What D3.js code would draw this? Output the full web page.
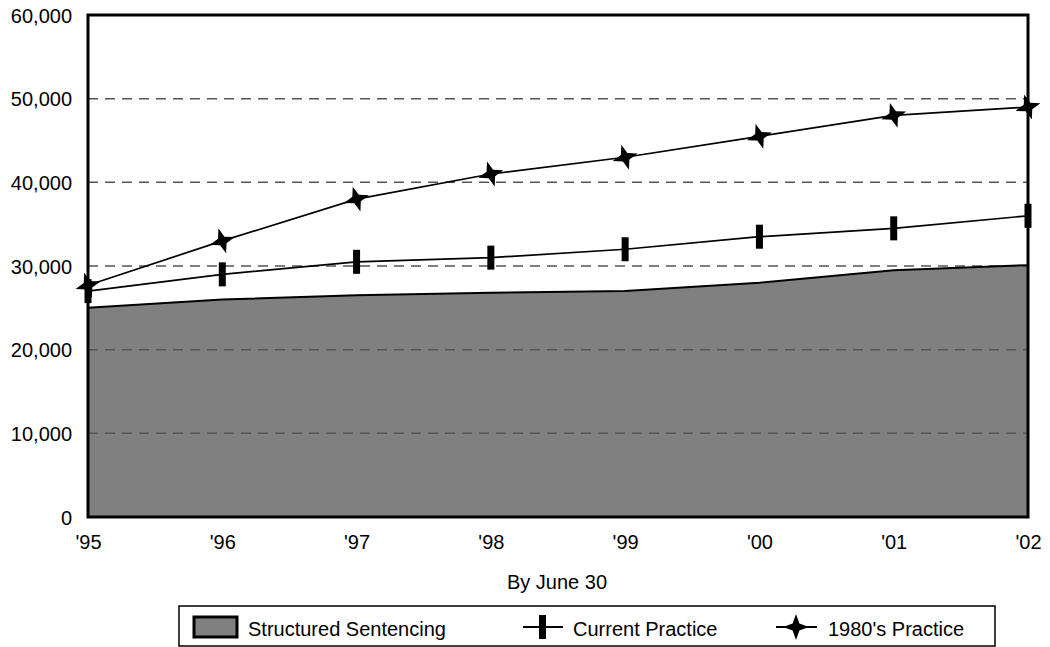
<!DOCTYPE html>
<meta charset="utf-8">
<script src="https://d3js.org/d3.v7.min.js"></script>
<style>
  body { margin: 0; background: #fff; }
  text { font-family: "Liberation Sans", Arial, sans-serif; fill: #000; }
</style>
<div id="chart"></div>
<script>

// data
var years = ["'95", "'96", "'97", "'98", "'99", "'00", "'01", "'02"];
var structured = [25000, 26000, 26500, 26800, 27000, 28000, 29500, 30100];
var current = [27000, 29000, 30500, 31000, 32000, 33500, 34500, 36000];
var practice80 = [27700, 33000, 38000, 41000, 43000, 45500, 48000, 49000];
var yTicks = [0, 10000, 20000, 30000, 40000, 50000, 60000];
var legendLabels = ["Structured Sentencing", "Current Practice", "1980's Practice"];

var W = 1050, H = 647;
var margin = {top: 15, right: 22, bottom: 130, left: 88},
    width = W - margin.left - margin.right,
    height = H - margin.top - margin.bottom;

var svg = d3.select("#chart").append("svg")
    .attr("width", W).attr("height", H);

var g = svg.append("g")
    .attr("transform", "translate(" + margin.left + "," + margin.top + ")");

var x = d3.scalePoint().domain(years).range([0, width]);
var y = d3.scaleLinear().domain([0, 60000]).range([height, 0]);

var rows = years.map(function(yr, i) {
  return {yr: yr, s: structured[i], c: current[i], p: practice80[i]};
});

// area
g.append("path")
  .datum(rows)
  .attr("d", d3.area().x(function(d) { return x(d.yr); }).y0(height).y1(function(d) { return y(d.s); }))
  .attr("fill", "#808080");

// gridlines
g.selectAll(".grid").data(yTicks.filter(function(t) { return t > 0 && t < 60000; }))
  .enter().append("line")
  .attr("x1", 0).attr("x2", width)
  .attr("y1", function(d) { return y(d); }).attr("y2", function(d) { return y(d); })
  .attr("stroke", "#555").attr("stroke-width", 1.5)
  .attr("stroke-dasharray", "10,7");

g.append("path")
  .datum(rows)
  .attr("d", d3.line().x(function(d) { return x(d.yr); }).y(function(d) { return y(d.s); }))
  .attr("fill", "none").attr("stroke", "#000").attr("stroke-width", 2);

// lines
var lineC = d3.line().x(function(d) { return x(d.yr); }).y(function(d) { return y(d.c); });
var lineP = d3.line().x(function(d) { return x(d.yr); }).y(function(d) { return y(d.p); });
g.append("path").datum(rows).attr("d", lineC)
  .attr("fill", "none").attr("stroke", "#000").attr("stroke-width", 1.7);
g.append("path").datum(rows).attr("d", lineP)
  .attr("fill", "none").attr("stroke", "#000").attr("stroke-width", 1.7);

// star marker path (4 points, rotated)
function starPath(r, ri, rot) {
  var pts = [];
  for (var k = 0; k < 8; k++) {
    var a = rot + k * Math.PI / 4;
    var rr = (k % 2 === 0) ? r : ri;
    pts.push([rr * Math.sin(a), -rr * Math.cos(a)]);
  }
  return "M" + pts.map(function(p) { return p[0].toFixed(2) + "," + p[1].toFixed(2); }).join("L") + "Z";
}
var star = starPath(13, 4.8, -0.3);

g.selectAll(".bar").data(rows).enter().append("rect")
  .attr("x", function(d) { return x(d.yr) - 3.5; })
  .attr("y", function(d) { return y(d.c) - 12; })
  .attr("width", 7).attr("height", 24)
  .attr("fill", "#000");

g.selectAll(".star").data(rows).enter().append("path")
  .attr("d", star)
  .attr("transform", function(d) { return "translate(" + x(d.yr) + "," + y(d.p) + ")"; })
  .attr("fill", "#000");

// frame
g.append("rect").attr("x", 0).attr("y", 0).attr("width", width).attr("height", height)
  .attr("fill", "none").attr("stroke", "#000").attr("stroke-width", 3);

// axes
var yAxis = g.append("g").call(d3.axisLeft(y).tickValues(yTicks).tickSize(0).tickPadding(16)
  .tickFormat(d3.format(",")));
yAxis.select(".domain").remove();
yAxis.selectAll("text").attr("font-size", 20).attr("dy", "0.35em");

var xAxis = g.append("g").attr("transform", "translate(0," + height + ")")
  .call(d3.axisBottom(x).tickSize(0).tickPadding(18));
xAxis.select(".domain").remove();
xAxis.selectAll("text").attr("font-size", 20);

g.append("text").attr("x", width / 2 - 1).attr("y", height + 72)
  .attr("text-anchor", "middle").attr("font-size", 20).text("By June 30");

// legend
var lg = svg.append("g");
lg.append("rect").attr("x", 179).attr("y", 606).attr("width", 816).attr("height", 40)
  .attr("fill", "#fff").attr("stroke", "#000").attr("stroke-width", 1.5);
lg.append("rect").attr("x", 194).attr("y", 617).attr("width", 43).attr("height", 20)
  .attr("fill", "#808080").attr("stroke", "#000").attr("stroke-width", 3);
lg.append("text").attr("x", 248).attr("y", 636).attr("font-size", 20).text(legendLabels[0]);

lg.append("line").attr("x1", 523).attr("x2", 563).attr("y1", 627).attr("y2", 627)
  .attr("stroke", "#000").attr("stroke-width", 1.8);
lg.append("rect").attr("x", 539).attr("y", 615).attr("width", 7).attr("height", 24).attr("fill", "#000");
lg.append("text").attr("x", 573).attr("y", 636).attr("font-size", 20).text(legendLabels[1]);

lg.append("line").attr("x1", 776).attr("x2", 817).attr("y1", 627).attr("y2", 627)
  .attr("stroke", "#000").attr("stroke-width", 1.8);
lg.append("path").attr("d", starPath(13, 4.8, 0)).attr("transform", "translate(796,627)").attr("fill", "#000");
lg.append("text").attr("x", 828).attr("y", 636).attr("font-size", 20).text(legendLabels[2]);

</script>
